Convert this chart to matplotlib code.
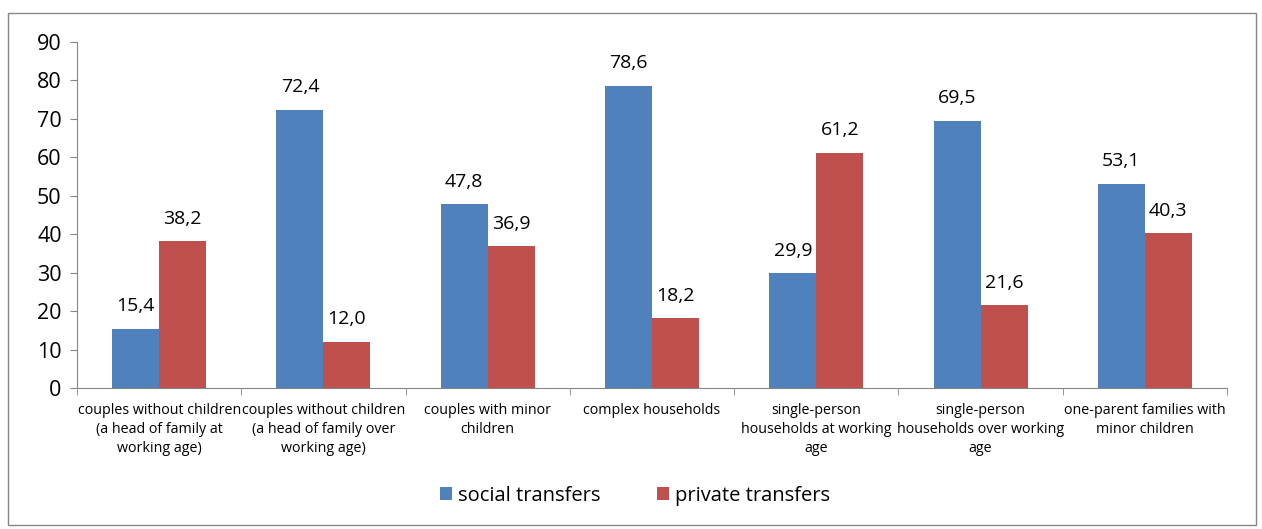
import numpy as np
import matplotlib
matplotlib.use("Agg")
from matplotlib import pyplot as plt
from matplotlib.patches import Rectangle

categories = ["couples without children\n(a head of family at\nworking age)",
              "couples without children\n(a head of family over\nworking age)",
              "couples with minor\nchildren",
              "complex households",
              "single-person\nhouseholds at working\nage",
              "single-person\nhouseholds over working\nage",
              "one-parent families with\nminor children"]
social = [15.4, 72.4, 47.8, 78.6, 29.9, 69.5, 53.1]
private = [38.2, 12.0, 36.9, 18.2, 61.2, 21.6, 40.3]

plt.rcParams['font.family'] = ['Open Sans', 'DejaVu Sans']
blue = '#4F81BD'
red = '#C0504D'
gray = '#868686'

fig = plt.figure(figsize=(12.62, 5.29), dpi=100)
ax = fig.add_axes([77/1262, 1-388/529, (1227-77)/1262, (388-42)/529])

# outer chart border
fig.patches.append(Rectangle((8/1262, 4/529), 1248/1262, 512/529, transform=fig.transFigure,
                             fill=False, edgecolor=gray, linewidth=1))

x = np.arange(len(categories))
w = 0.286
b1 = ax.bar(x - w/2, social, w, color=blue, label='social transfers')
b2 = ax.bar(x + w/2, private, w, color=red, label='private transfers')

for bars, vals in [(b1, social), (b2, private)]:
    for r, v in zip(bars, vals):
        ax.text(r.get_x() + r.get_width()/2, v + 3.5, f"{v:.1f}".replace('.', ','),
                ha='center', va='bottom', fontsize=14)

ax.set_xlim(-0.5, len(categories) - 0.5)
ax.set_ylim(0, 90)
ax.set_yticks(range(0, 91, 10))
ax.tick_params(axis='y', labelsize=15.5, length=5, color=gray, direction='out', pad=6)
ax.set_xticks(x)
ax.set_xticklabels(categories, fontsize=10.3, linespacing=1.35)
ax.set_xticks(np.arange(-0.5, len(categories)), minor=True)
ax.tick_params(axis='x', which='major', length=0, pad=11)
ax.tick_params(axis='x', which='minor', length=5, color=gray)
for s in ['top', 'right']:
    ax.spines[s].set_visible(False)
for s in ['left', 'bottom']:
    ax.spines[s].set_color(gray)

fig.legend(handles=[b1, b2], loc='center', bbox_to_anchor=(0.503, 0.063), ncol=2,
           frameon=False, fontsize=14.5, handlelength=0.6, handleheight=0.6,
           handletextpad=0.3, columnspacing=2.8)

fig.savefig('out.png', dpi=100)
